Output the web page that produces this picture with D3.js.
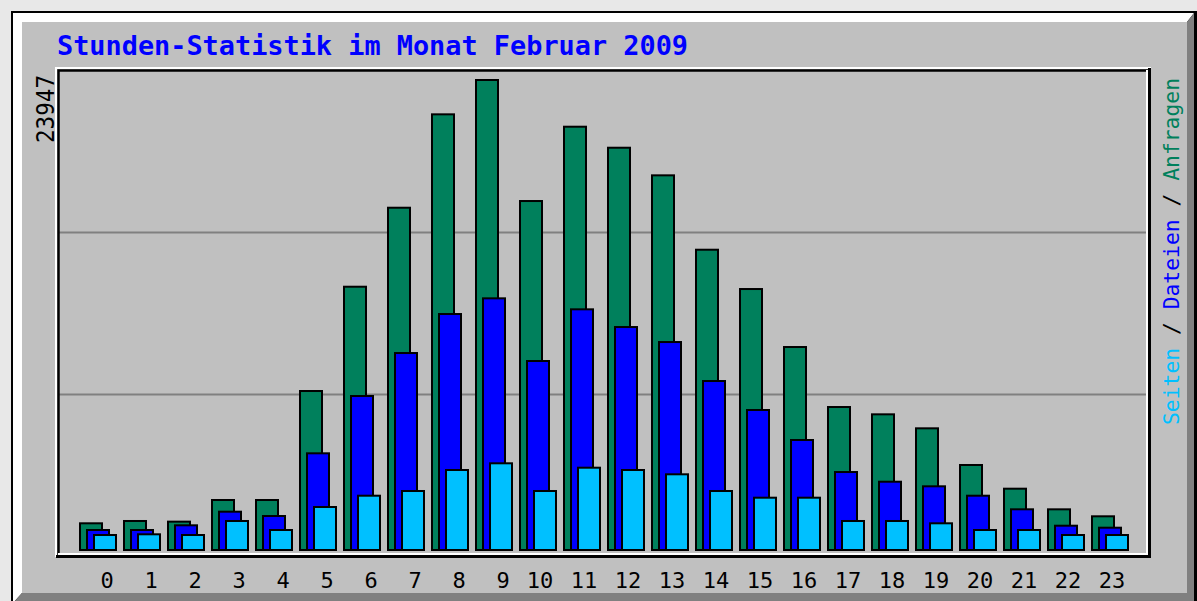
<!DOCTYPE html>
<html><head><meta charset="utf-8">
<script src="https://cdn.jsdelivr.net/npm/d3@7/dist/d3.min.js"></script>
<style>
html,body{margin:0;padding:0;background:#e8e8e8;overflow:hidden}
svg{display:block}
text{font-family:"DejaVu Sans Mono","Liberation Mono",monospace}
</style></head><body>
<svg id="c" width="1197" height="601"></svg>
<script>
const hours = ["0","1","2","3","4","5","6","7","8","9","10","11","12","13","14","15","16","17","18","19","20","21","22","23"];
const anfragen = [1456,1573,1540,2638,2638,8168,13459,17467,22205,23947,17807,21577,20511,19110,15336,13342,10400,7356,6985,6275,4414,3212,2165,1811];
const dateien  = [1116,1116,1354,2045,1826,5007,7914,10095,12074,12870,9690,12312,11414,10653,8675,7204,5682,4058,3566,3333,2856,2166,1334,1233];
const seiten   = [862,898,862,1573,1116,2283,2856,3095,4160,4500,3095,4277,4160,3942,3095,2755,2755,1573,1573,1456,1116,1116,862,862];
const maxLabel = "23947";
const gridValues = [7950, 16170];
const title = "Stunden-Statistik im Monat Februar 2009";

const svg = d3.select("#c");
// outer frame
svg.append("rect").attr("x",11).attr("y",11).attr("width",1190).attr("height",600).attr("fill","#000");
svg.append("polygon").attr("points","13,13 1194,13 1187,22 22,22 22,593 13,603").attr("fill","#ffffff");
svg.append("polygon").attr("points","1194,13 1194,603 13,603 22,593 1187,593 1187,22").attr("fill","#808080");
svg.append("rect").attr("x",22).attr("y",22).attr("width",1165).attr("height",571).attr("fill","#c0c0c0");

const x = d3.scaleLinear().domain([0,23]).range([79,1091]);
const y = d3.scaleLinear().domain([0,23947]).range([551,79]);

// grid
svg.selectAll("line.grid").data(gridValues).join("line")
  .attr("x1",58).attr("x2",1147)
  .attr("y1",d=>Math.round(y(d))+0.5).attr("y2",d=>Math.round(y(d))+0.5)
  .attr("stroke","#808080").attr("stroke-width",2);

// plot frame
const f = svg.append("g").attr("fill","none");
f.append("path").attr("d","M56,557 V68 H1151").attr("stroke","#fff").attr("stroke-width",2);
f.append("path").attr("d","M58.5,555 V70.5 H1149").attr("stroke","#000").attr("stroke-width",2.5);
f.append("path").attr("d","M58,554 H1147 V70").attr("stroke","#fff").attr("stroke-width",2);
f.append("path").attr("d","M56,556.5 H1149.5 V68").attr("stroke","#000").attr("stroke-width",3);

const series = [
  {vals:anfragen, color:"#00805c", off:0},
  {vals:dateien,  color:"#0000ff", off:7},
  {vals:seiten,   color:"#00c0ff", off:14}
];
const bw = 24;
series.forEach(s=>{
  svg.append("g").selectAll("rect").data(s.vals).join("rect")
    .attr("x",(d,i)=>x(i)+s.off+1)
    .attr("y",d=>y(d)+1)
    .attr("width",bw-2)
    .attr("height",d=>y(0)-y(d)-2)
    .attr("fill",s.color).attr("stroke","#000").attr("stroke-width",2);
});

// x labels
svg.append("g").selectAll("text").data(hours).join("text")
  .attr("x",(d,i)=>x(i)+(d.length<2?28:21))
  .attr("y",588)
  .attr("text-anchor","middle")
  .attr("font-size",22).attr("fill","#000")
  .text(d=>d);

// title
svg.append("text").attr("x",57).attr("y",55)
  .attr("font-size",27).attr("font-weight","bold").attr("fill","#0000ff")
  .attr("textLength",631).attr("lengthAdjust","spacingAndGlyphs")
  .text(title);

// max label
svg.append("text").attr("transform","translate(54,143) rotate(-90)")
  .attr("font-size",24).attr("fill","#000")
  .attr("textLength",68).attr("lengthAdjust","spacingAndGlyphs")
  .text(maxLabel);

// legend
const lg = svg.append("text").attr("transform","translate(1179,425) rotate(-90)")
  .attr("font-size",22).attr("textLength",347).attr("lengthAdjust","spacingAndGlyphs");
[["Seiten","#00c0ff"],[" / ","#000"],["Dateien","#0000ff"],[" / ","#000"],["Anfragen","#00805c"]]
  .forEach(p=>lg.append("tspan").attr("fill",p[1]).text(p[0]));
</script>
</body></html>
